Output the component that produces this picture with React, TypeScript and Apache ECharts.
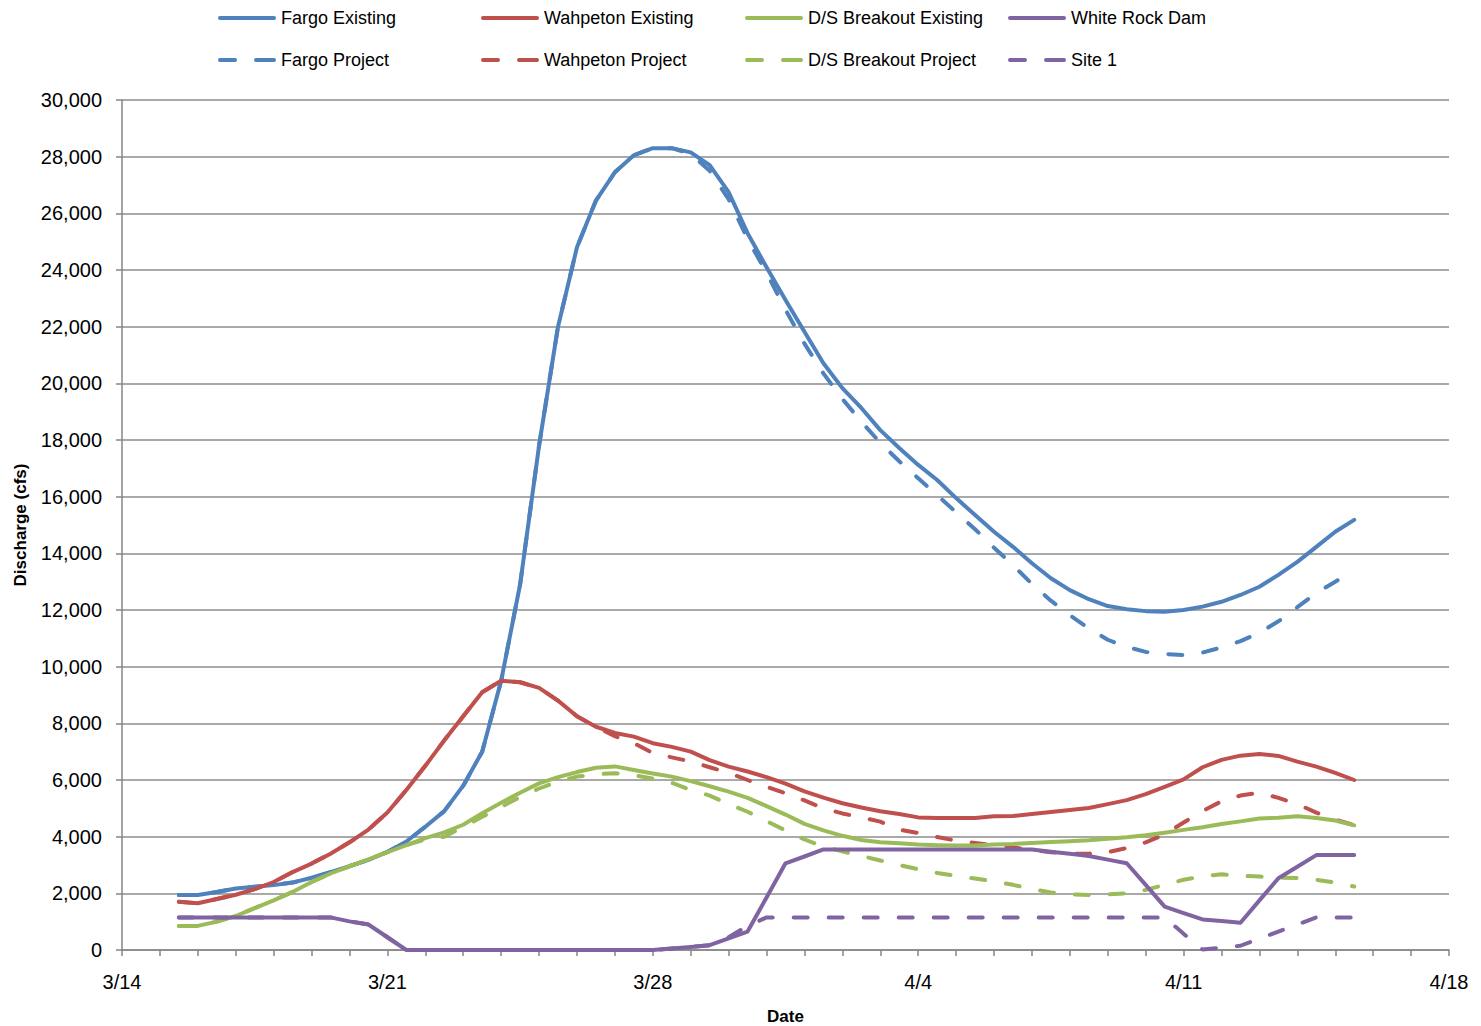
import React, { useEffect, useRef } from "react";
import * as echarts from "echarts";

// Days after 3/14 (x axis position), half-day steps
const dayOffsets = [
  1.5, 2, 2.5, 3, 3.5, 4, 4.5, 5, 5.5, 6,
  6.5, 7, 7.5, 8, 8.5, 9, 9.5, 10, 10.5, 11,
  11.5, 12, 12.5, 13, 13.5, 14, 14.5, 15, 15.5, 16,
  16.5, 17, 17.5, 18, 18.5, 19, 19.5, 20, 20.5, 21,
  21.5, 22, 22.5, 23, 23.5, 24, 24.5, 25, 25.5, 26,
  26.5, 27, 27.5, 28, 28.5, 29, 29.5, 30, 30.5, 31,
  31.5, 32, 32.5,
];

const xTickLabels: Record<number, string> = { 0: "3/14", 7: "3/21", 14: "3/28", 21: "4/4", 28: "4/11", 35: "4/18" };

const fargoExisting = [
  1940, 1940, 2050, 2170, 2230, 2290, 2380, 2550, 2750, 2960,
  3180, 3460, 3830, 4350, 4900, 5800, 7000, 9500, 12900, 17800,
  22000, 24800, 26450, 27450, 28050, 28300, 28300, 28150, 27700, 26750,
  25300, 24100, 22940, 21820, 20710, 19830, 19130, 18350, 17720, 17120,
  16590, 15950, 15350, 14760, 14230, 13650, 13120, 12700, 12380, 12140,
  12030, 11960, 11940, 12000, 12120, 12290, 12530, 12820, 13240, 13700,
  14230, 14760, 15180,
];
const fargoProject = [
  1940, 1940, 2050, 2170, 2230, 2290, 2380, 2550, 2750, 2960,
  3180, 3460, 3830, 4350, 4900, 5800, 7000, 9500, 12900, 17800,
  22000, 24800, 26450, 27450, 28050, 28300, 28300, 28100, 27500, 26500,
  25100, 23900, 22600, 21400, 20350, 19450, 18650, 17900, 17250, 16650,
  16050, 15450, 14850, 14200, 13580, 12920, 12330, 11820, 11350, 10950,
  10700, 10520, 10450, 10410, 10500, 10680, 10900, 11200, 11600, 12100,
  12600, 13000, 13400,
];
const wahpetonExisting = [
  1700, 1650, 1800, 1950, 2150, 2400, 2750, 3050, 3400, 3800,
  4250, 4850, 5650, 6500, 7400, 8250, 9100, 9500, 9450, 9250,
  8800, 8250, 7880, 7660, 7530, 7300, 7170, 7000, 6700, 6470,
  6300, 6100, 5870, 5600, 5380, 5180, 5030, 4900, 4800, 4680,
  4660, 4660, 4660, 4720, 4730, 4800, 4870, 4940, 5010, 5150,
  5290, 5500, 5760, 6020, 6450, 6710, 6860, 6920, 6850, 6650,
  6470, 6250, 6000,
];
const wahpetonProject = [
  1700, 1650, 1800, 1950, 2150, 2400, 2750, 3050, 3400, 3800,
  4250, 4850, 5650, 6500, 7400, 8250, 9100, 9500, 9450, 9250,
  8800, 8250, 7880, 7550, 7300, 6950, 6800, 6650, 6450, 6250,
  6000, 5760, 5530, 5280, 5000, 4820, 4680, 4530, 4250, 4130,
  3990, 3860, 3780, 3700, 3620, 3530, 3450, 3400, 3400, 3450,
  3600, 3800, 4080, 4500, 4900, 5250, 5450, 5550, 5370, 5150,
  4850, 4600, 4410,
];
const dsBreakoutExisting = [
  850, 850, 1000, 1200, 1480, 1750, 2050, 2400, 2700, 2950,
  3200, 3450, 3700, 3950, 4150, 4420, 4830, 5200, 5550, 5880,
  6100, 6280, 6430, 6480, 6350, 6230, 6120, 5960, 5780, 5590,
  5370, 5080, 4780, 4450, 4220, 4030, 3880, 3800, 3770, 3720,
  3700, 3690, 3690, 3720, 3740, 3780, 3810, 3840, 3870, 3930,
  3980, 4050, 4140, 4240, 4330, 4450, 4540, 4640, 4670, 4720,
  4660, 4570, 4400,
];
const dsBreakoutProject = [
  850, 850, 1000, 1200, 1480, 1750, 2050, 2400, 2700, 2950,
  3200, 3450, 3700, 3900, 4000, 4350, 4700, 5050, 5400, 5700,
  5950, 6120, 6200, 6240, 6170, 6050, 5900, 5650, 5450, 5150,
  4880, 4550, 4220, 3900, 3650, 3480, 3320, 3160, 3000, 2850,
  2720, 2620, 2520, 2420, 2300, 2150, 2030, 1970, 1940, 1960,
  2000, 2120, 2300, 2480, 2600, 2670, 2620, 2590, 2550, 2540,
  2480, 2380, 2240,
];
const whiteRockDam = [
  1150, 1150, 1150, 1150, 1150, 1150, 1150, 1150, 1150, 1010,
  900, 450, 0, 0, 0, 0, 0, 0, 0, 0,
  0, 0, 0, 0, 0, 0, 50, 110, 170, 410,
  650, 1850, 3060, 3300, 3550, 3550, 3550, 3550, 3550, 3550,
  3550, 3550, 3550, 3550, 3550, 3550, 3470, 3400, 3320, 3190,
  3060, 2300, 1530, 1300, 1080, 1020, 960, 1750, 2530, 2940,
  3350, 3350, 3350,
];
const site1 = [
  1150, 1150, 1150, 1150, 1150, 1150, 1150, 1150, 1150, 1010,
  900, 450, 0, 0, 0, 0, 0, 0, 0, 0,
  0, 0, 0, 0, 0, 0, 50, 110, 170, 450,
  850, 1150, 1150, 1150, 1150, 1150, 1150, 1150, 1150, 1150,
  1150, 1150, 1150, 1150, 1150, 1150, 1150, 1150, 1150, 1150,
  1150, 1150, 1150, 570, 20, 80, 150, 400, 650, 900,
  1150, 1150, 1150,
];

const BLUE = "#4F81BD";
const RED = "#C0504D";
const GREEN = "#9BBB59";
const PURPLE = "#8064A2";
const FONT = "'Liberation Sans', Arial, sans-serif";

const SOLID_ICON = "path://M2,0h54a2,2 0 0 1 0,4h-54a2,2 0 0 1 0,-4z";
const DASH_ICON = "path://M2,0h15a2,2 0 0 1 0,4h-15a2,2 0 0 1 0,-4z M38,0h18a2,2 0 0 1 0,4h-18a2,2 0 0 1 0,-4z";

const seriesDefs = [
  { name: "Fargo Existing", data: fargoExisting, color: BLUE, dashed: false, legend: [218, 9] },
  { name: "Fargo Project", data: fargoProject, color: BLUE, dashed: true, legend: [218, 51] },
  { name: "Wahpeton Existing", data: wahpetonExisting, color: RED, dashed: false, legend: [481, 9] },
  { name: "Wahpeton Project", data: wahpetonProject, color: RED, dashed: true, legend: [481, 51] },
  { name: "D/S Breakout Existing", data: dsBreakoutExisting, color: GREEN, dashed: false, legend: [745, 9] },
  { name: "D/S Breakout Project", data: dsBreakoutProject, color: GREEN, dashed: true, legend: [745, 51] },
  { name: "White Rock Dam", data: whiteRockDam, color: PURPLE, dashed: false, legend: [1008, 9] },
  { name: "Site 1", data: site1, color: PURPLE, dashed: true, legend: [1008, 51] },
];

export default function App() {
  const ref = useRef<HTMLDivElement>(null);
  useEffect(() => {
    if (!ref.current) return;
    const chart = echarts.init(ref.current, null, { renderer: "svg" });
    const axisColor = "#868686";
    chart.setOption({
      animation: false,
      backgroundColor: "#ffffff",
      textStyle: { fontFamily: FONT },
      grid: { left: 122, right: 32, top: 100, bottom: 76, containLabel: false, outerBoundsMode: "none" },
      legend: seriesDefs.map((s) => ({
        data: [{ name: s.name, icon: s.dashed ? DASH_ICON : SOLID_ICON }],
        left: s.legend[0],
        top: s.legend[1],
        padding: 0,
        itemWidth: 58,
        itemHeight: 4,
        itemGap: 0,
        selectedMode: false,
        textStyle: { fontSize: 18, color: "#000", fontFamily: FONT, padding: [0, 0, 0, 0] },
      })),
      xAxis: {
        type: "value",
        min: 0,
        max: 35,
        interval: 7,
        name: "Date",
        nameLocation: "middle",
        nameGap: 58,
        nameTextStyle: { fontSize: 17, fontWeight: "bold", color: "#000", fontFamily: FONT },
        axisLine: { show: true, lineStyle: { color: axisColor, width: 1.5 } },
        axisTick: { show: true, length: 6, lineStyle: { color: axisColor, width: 1.5 } },
        minorTick: { show: true, splitNumber: 7, length: 6, lineStyle: { color: axisColor, width: 1.5 } },
        splitLine: { show: false },
        axisLabel: {
          fontSize: 20,
          color: "#000",
          margin: 22,
          formatter: (v: number) => xTickLabels[v] ?? "",
        },
      },
      yAxis: {
        type: "value",
        min: 0,
        max: 30000,
        interval: 2000,
        name: "Discharge (cfs)",
        nameLocation: "middle",
        nameGap: 93,
        nameTextStyle: { fontSize: 17, fontWeight: "bold", color: "#000", fontFamily: FONT },
        axisLine: { show: true, lineStyle: { color: axisColor, width: 1.5 } },
        axisTick: { show: true, length: 6, lineStyle: { color: axisColor, width: 1.5 } },
        splitLine: { show: true, lineStyle: { color: "#8c8c8c", width: 1.5 } },
        axisLabel: {
          fontSize: 20,
          color: "#000",
          margin: 20,
          formatter: (v: number) => v.toLocaleString("en-US"),
        },
      },
      series: seriesDefs.map((s) => ({
        name: s.name,
        type: "line",
        data: dayOffsets.map((d, i) => [d, s.data[i]]),
        symbol: "none",
        showSymbol: false,
        color: s.color,
        itemStyle: { color: s.color },
        lineStyle: {
          color: s.color,
          width: 4,
          type: s.dashed ? [14, 21] : "solid",
          cap: "round",
          join: "round",
        },
      })),
    });
    return () => chart.dispose();
  }, []);
  return (
    <div
      ref={ref}
      style={{ position: "fixed", left: 0, top: 0, width: 1481, height: 1026, background: "#fff" }}
    />
  );
}
